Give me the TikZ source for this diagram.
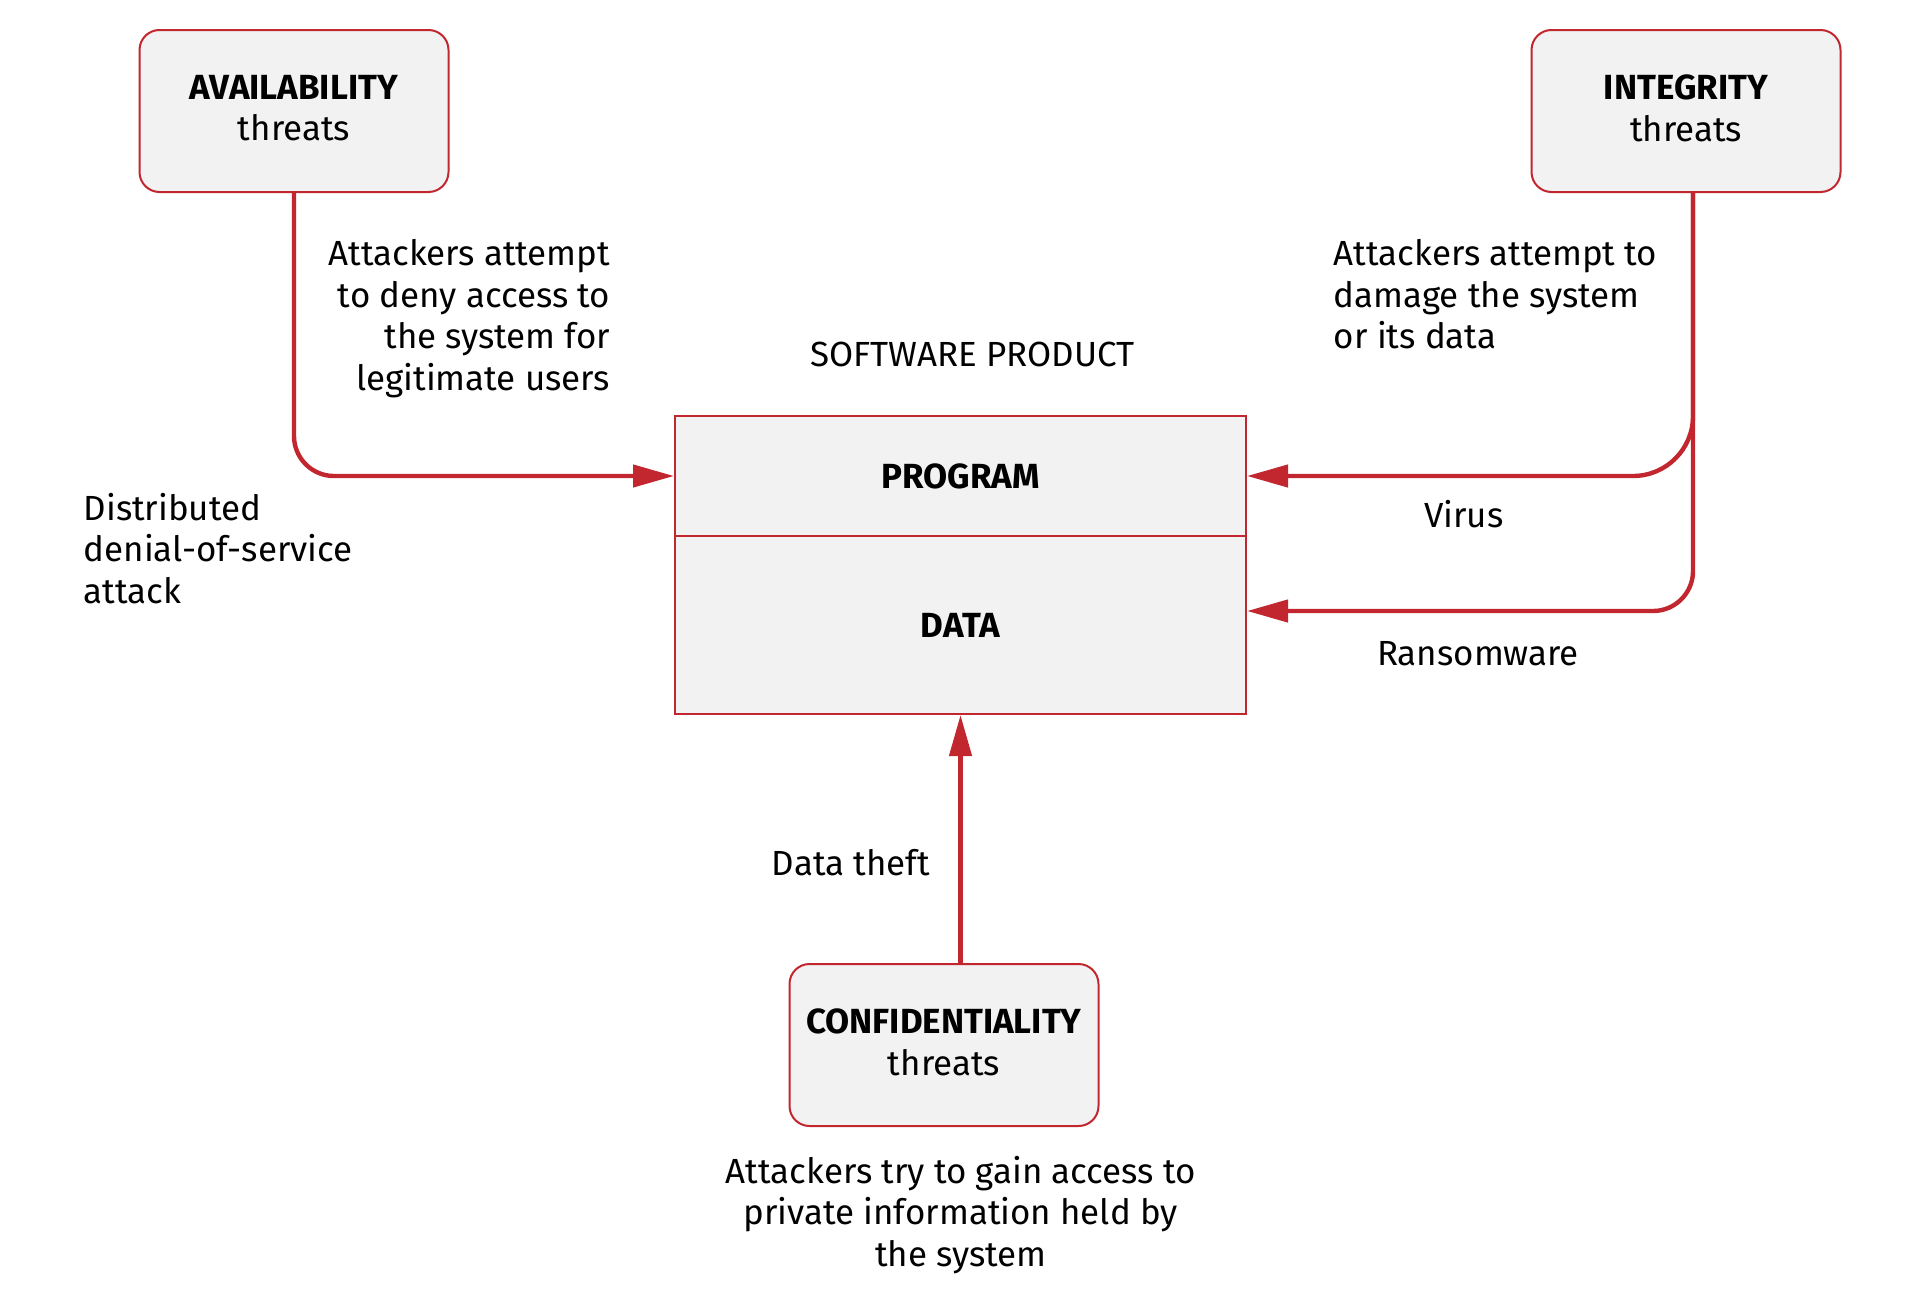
\documentclass[tikz,border=0pt]{standalone}
\usepackage{fontspec}
\setmainfont{Fira Sans}
\usetikzlibrary{arrows.meta}
\definecolor{tred}{HTML}{C2272F}
\definecolor{tfill}{HTML}{F2F2F2}
\begin{document}
\begin{tikzpicture}[x=0.5pt,y=-0.5pt,
  every node/.style={font=\fontsize{17.45}{20.75}\selectfont, inner sep=0pt, text=black},
  threat/.style={draw=tred, fill=tfill, line width=1pt, rounded corners=10pt,
    minimum width=154.5pt, minimum height=81pt, align=center},
  part/.style={draw=tred, fill=tfill, line width=1pt, minimum width=285.5pt},
  conn/.style={draw=tred, line width=2.2pt, -{Triangle[length=20.5pt,width=11pt]}}]
\useasboundingbox (0,0) rectangle (1921,1301);
% boxes
\node[threat] (avail) at (294,111) {\textbf{AVAILABILITY}\\threats\rule[-3pt]{0pt}{0pt}};
\node[threat] (integ) at (1686,111) {\textbf{INTEGRITY}\\threats\rule[-3pt]{0pt}{0pt}};
\node[threat] (conf) at (944,1045) {\textbf{CONFIDENTIALITY}\\threats\rule[-3pt]{0pt}{0pt}};
\node[part, minimum height=60pt] (prog) at (960.5,476) {\textbf{PROGRAM}};
\node[part, minimum height=89pt] (data) at (960.5,625) {\textbf{DATA}};
% connectors
\draw[conn, rounded corners=20pt] (avail.south) |- (prog.west);
\draw[conn, rounded corners=30pt] ([xshift=3.5pt]integ.south) |- (prog.east);
\draw[conn, rounded corners=20pt] ([xshift=3.5pt]integ.south) |- ([yshift=7pt]data.east);
\draw[conn] (conf.north -| data.south) -- (data.south);
% labels (base anchor = baseline of the last line)
\node[anchor=base east, align=right] (t1) at (610.5,390.1) {Attackers attempt\\to deny access to\\the system for\\legitimate users};
\node[anchor=base west, align=left] (t2) at (1333.5,348.6) {Attackers attempt to\\damage the system\\or its data};
\node[anchor=base] (sp) at (972.5,366) {SOFTWARE PRODUCT};
\node[anchor=base west, align=left] (ddos) at (83.3,603) {Distributed\\denial-of-service\\attack};
\node[anchor=base] (virus) at (1463.7,527) {Virus};
\node[anchor=base] (ransom) at (1478,665) {Ransomware};
\node[anchor=base] (theft) at (851,875.3) {Data theft};
\node[anchor=base, align=center] (conft) at (960.8,1266) {Attackers try to gain access to\\private information held by\\the system};
\end{tikzpicture}
\end{document}
